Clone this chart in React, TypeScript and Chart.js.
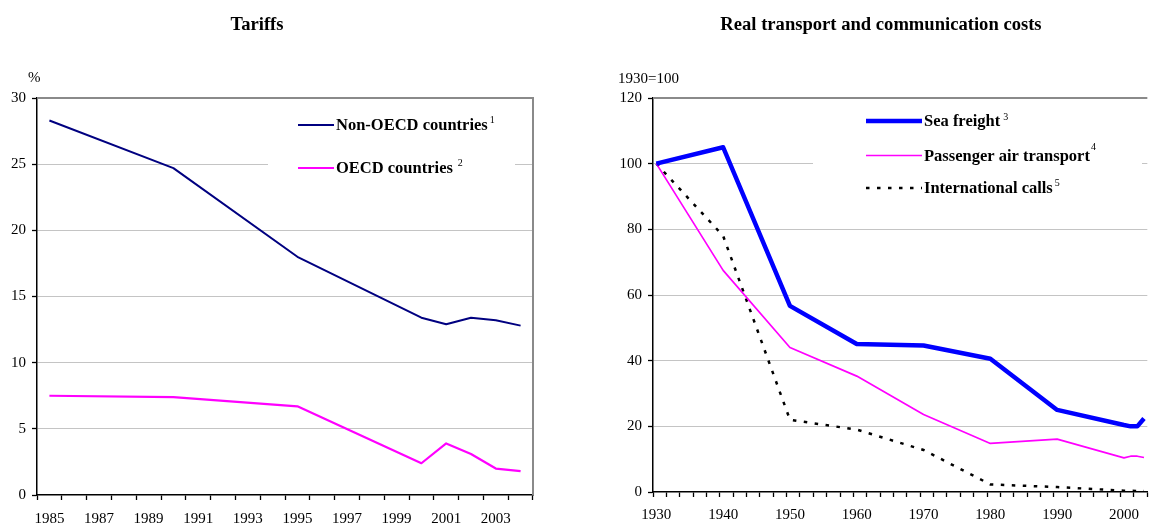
import React, { useEffect, useRef } from 'react';
import { Chart, registerables } from 'chart.js';

Chart.register(...registerables);

// ---------- Data: Tariffs ----------
const tariffYears = ['1985', '1986', '1987', '1988', '1989', '1990', '1991', '1992', '1993', '1994',
  '1995', '1996', '1997', '1998', '1999', '2000', '2001', '2002', '2003', '2004'];
const tariffTickLabels = ['1985', '1987', '1989', '1991', '1993', '1995', '1997', '1999', '2001', '2003'];

const nonOecdYears = ['1985', '1990', '1995', '2000', '2001', '2002', '2003', '2004'];
const nonOecdValues = [28.3, 24.7, 18.0, 13.4, 12.9, 13.4, 13.2, 12.8];

const oecdYears = ['1985', '1990', '1995', '2000', '2001', '2002', '2003', '2004'];
const oecdValues = [7.5, 7.4, 6.7, 2.4, 3.9, 3.1, 2.0, 1.8];

// ---------- Data: Real transport and communication costs ----------
const costYears = Array.from({ length: 74 }, (_, i) => String(1930 + i));
const costTickLabels = ['1930', '1940', '1950', '1960', '1970', '1980', '1990', '2000'];

const seaYears = ['1930', '1940', '1950', '1960', '1970', '1980', '1990', '2000', '2001', '2002', '2003'];
const seaValues = [100, 105, 56.7, 45.1, 44.6, 40.6, 25.0, 20.4, 20.0, 20.0, 22.4];

const airYears = ['1930', '1940', '1950', '1960', '1970', '1980', '1990', '2000', '2001', '2002', '2003'];
const airValues = [100, 67.5, 44.0, 35.3, 23.6, 14.8, 16.1, 10.4, 10.9, 10.9, 10.5];

const callsYears = ['1930', '1940', '1950', '1960', '1970', '1980', '1990', '2000', '2003'];
const callsValues = [100, 78, 22, 19, 12.8, 2.3, 1.5, 0.4, 0.3];

const FONT = '"Liberation Serif", "Times New Roman", serif';

const pts = (xs: string[], ys: number[]) => xs.map((x, i) => ({ x, y: ys[i] }));

const frameLegendPlugin = {
  id: 'frameLegend',
  afterDraw(chart: any, _args: any, opts: any) {
    const ctx = chart.ctx;
    const a = chart.chartArea;
    ctx.save();
    // top (and right) frame
    ctx.strokeStyle = '#8a8a8a';
    ctx.lineWidth = 2;
    ctx.beginPath();
    ctx.moveTo(a.left, a.top);
    ctx.lineTo(a.right, a.top);
    if (opts.rightBorder) ctx.lineTo(a.right, a.bottom);
    ctx.stroke();

    // legend box
    const b = opts.box;
    ctx.fillStyle = '#ffffff';
    ctx.fillRect(b.x, b.y, b.w, b.h);

    chart.data.datasets.forEach((ds: any, i: number) => {
      const y = opts.rows[i];
      ctx.beginPath();
      ctx.strokeStyle = ds.borderColor;
      ctx.lineWidth = ds.borderWidth;
      ctx.setLineDash(ds.borderDash || []);
      ctx.lineCap = 'butt';
      ctx.moveTo(opts.lineX1, y);
      ctx.lineTo(opts.lineX2, y);
      ctx.stroke();
      ctx.setLineDash([]);

      ctx.fillStyle = '#000';
      ctx.textBaseline = 'middle';
      ctx.textAlign = 'left';
      ctx.font = 'bold 16.5px ' + FONT;
      ctx.fillText(ds.label, opts.textX, y + 1);
      const w = ctx.measureText(ds.label).width;
      ctx.font = '10px ' + FONT;
      ctx.fillText(opts.sups[i], opts.textX + w + opts.supGap[i], y + 1 - opts.supRaise[i]);
    });
    ctx.restore();
  },
};

function buildOptions(cfg: any) {
  return {
    responsive: false,
    animation: false as const,
    layout: { padding: cfg.padding },
    plugins: {
      legend: { display: false },
      tooltip: { enabled: false },
      title: { display: false },
      frameLegend: cfg.legend,
    },
    elements: { point: { radius: 0 }, line: { tension: 0 } },
    scales: {
      x: {
        type: 'category' as const,
        offset: true,
        afterFit: (s: any) => { s.height = cfg.xHeight; },
        grid: {
          offset: true,
          drawOnChartArea: false,
          drawTicks: true,
          tickLength: 5,
          tickWidth: 1.3,
          tickColor: cfg.xTickColor,
        },
        border: { display: true, color: '#000', width: 1.5 },
        ticks: {
          autoSkip: false,
          maxRotation: 0,
          minRotation: 0,
          padding: 6,
          color: '#000',
          font: { family: FONT, size: 15, lineHeight: cfg.xLineHeight },
          callback: (_v: any, i: number) => (cfg.tickLabels.includes(cfg.categories[i]) ? cfg.categories[i] : ''),
        },
      },
      y: {
        min: 0,
        max: cfg.yMax,
        afterFit: (s: any) => { s.width = cfg.yWidth; },
        grid: {
          color: (c: any) => (c.tick && (c.tick.value === 0 || c.tick.value === cfg.yMax) ? 'rgba(0,0,0,0)' : '#c4c4c4'),
          lineWidth: 1,
          tickLength: 5,
          tickWidth: 1.3,
          tickColor: '#000',
        },
        border: { display: true, color: '#000', width: 1.5 },
        ticks: {
          stepSize: cfg.yStep,
          padding: 6,
          color: '#000',
          font: { family: FONT, size: 15 },
        },
      },
    },
  };
}

function TariffsChart() {
  const ref = useRef<HTMLCanvasElement | null>(null);
  useEffect(() => {
    if (!ref.current) return;
    const chart = new Chart(ref.current, {
      type: 'line',
      data: {
        labels: tariffYears,
        datasets: [
          { label: 'Non-OECD countries', data: pts(nonOecdYears, nonOecdValues) as any, borderColor: '#000080', borderWidth: 2, borderJoinStyle: 'round', fill: false },
          { label: 'OECD countries', data: pts(oecdYears, oecdValues) as any, borderColor: '#ff00ff', borderWidth: 2.2, borderJoinStyle: 'round', fill: false },
        ],
      },
      options: buildOptions({
        padding: { top: 98, right: 42, left: 0, bottom: 0 },
        xHeight: 29,
        yWidth: 37,
        yMax: 30,
        yStep: 5,
        xLineHeight: 1.7,
        categories: tariffYears,
        tickLabels: tariffTickLabels,
        xTickColor: '#000',
        legend: {
          rightBorder: true,
          box: { x: 268, y: 108, w: 247, h: 78 },
          lineX1: 298, lineX2: 334, textX: 336,
          rows: [125, 168],
          sups: ['1', '2'],
          supGap: [2, 5],
          supRaise: [6, 6],
        },
      }) as any,
      plugins: [frameLegendPlugin],
    });
    return () => chart.destroy();
  }, []);
  return <canvas ref={ref} width={575} height={524} style={{ position: 'absolute', left: 0, top: 0 }} />;
}

function CostsChart() {
  const ref = useRef<HTMLCanvasElement | null>(null);
  useEffect(() => {
    if (!ref.current) return;
    const chart = new Chart(ref.current, {
      type: 'line',
      data: {
        labels: costYears,
        datasets: [
          { label: 'Sea freight', data: pts(seaYears, seaValues) as any, borderColor: '#0000ff', borderWidth: 4.5, borderJoinStyle: 'round', fill: false },
          { label: 'Passenger air transport', data: pts(airYears, airValues) as any, borderColor: '#ff00ff', borderWidth: 1.7, borderJoinStyle: 'round', fill: false },
          { label: 'International calls', data: pts(callsYears, callsValues) as any, borderColor: '#000000', borderWidth: 2.5, borderDash: [3.5, 7.5], fill: false },
        ],
      },
      options: buildOptions({
        padding: { top: 98, right: 1, left: 0, bottom: 0 },
        xHeight: 32,
        yWidth: 78,
        yMax: 120,
        yStep: 20,
        xLineHeight: 1.65,
        categories: costYears,
        tickLabels: costTickLabels,
        xTickColor: (c: any) => (c.index === undefined || c.index % 2 === 0 ? '#000' : 'rgba(0,0,0,0)'),
        legend: {
          rightBorder: false,
          box: { x: 238, y: 105, w: 329, h: 100 },
          lineX1: 291, lineX2: 347, textX: 349,
          rows: [121, 155.5, 188],
          sups: ['3', '4', '5'],
          supGap: [3, 1, 2],
          supRaise: [5, 9, 6],
        },
      }) as any,
      plugins: [frameLegendPlugin],
    });
    return () => chart.destroy();
  }, []);
  return <canvas ref={ref} width={575} height={524} style={{ position: 'absolute', left: 575, top: 0 }} />;
}

const textBase: React.CSSProperties = {
  position: 'absolute',
  fontFamily: FONT,
  color: '#000',
  whiteSpace: 'nowrap',
  lineHeight: 1,
};

export default function App() {
  return (
    <div style={{ position: 'fixed', left: 0, top: 0, width: 1150, height: 524, background: '#fff', overflow: 'hidden' }}>
      <TariffsChart />
      <CostsChart />
      <div style={{ ...textBase, left: 157, width: 200, top: 15, textAlign: 'center', fontWeight: 'bold', fontSize: 18.6 }}>Tariffs</div>
      <div style={{ ...textBase, left: 681, width: 400, top: 15, textAlign: 'center', fontWeight: 'bold', fontSize: 18.6 }}>Real transport and communication costs</div>
      <div style={{ ...textBase, left: 28, top: 69.5, fontSize: 15 }}>%</div>
      <div style={{ ...textBase, left: 618, top: 70.5, fontSize: 15 }}>1930=100</div>
    </div>
  );
}
